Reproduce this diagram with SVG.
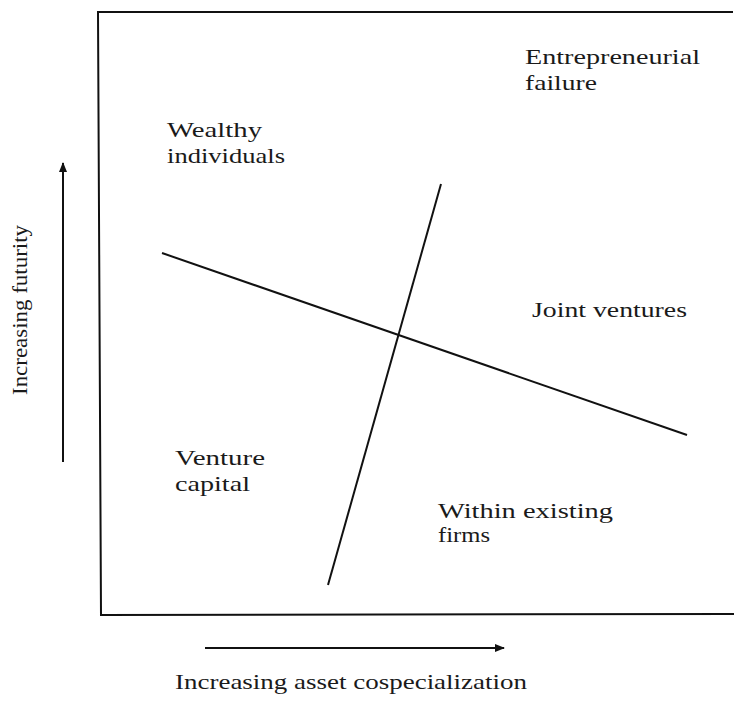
<svg xmlns="http://www.w3.org/2000/svg" width="734" height="713" viewBox="0 0 734 713">
<style>
.t{font-family:"Liberation Serif","DejaVu Serif",serif;font-size:22px;fill:#1a1a1a}
.ln{stroke:#111;stroke-width:2;fill:none}
.ax{stroke:#111;stroke-width:2;fill:none}
</style>
<defs>
<marker id="ah" markerWidth="10" markerHeight="8" refX="9" refY="4" orient="auto" markerUnits="userSpaceOnUse">
<path d="M0,0 L10,4 L0,8 Z" fill="#111"/>
</marker>
</defs>
<rect width="734" height="713" fill="#fff"/>
<g id="frame">
<path class="ln" d="M733,12 L98,12 L101,615 L734,614"/>
</g>
<g id="connectors">
<line class="ln" x1="162" y1="253" x2="687" y2="435"/>
<line class="ln" x1="441" y1="184" x2="328" y2="585"/>
<line class="ax" x1="63" y1="462" x2="63" y2="163" marker-end="url(#ah)"/>
<line class="ax" x1="205" y1="648" x2="504" y2="648" marker-end="url(#ah)"/>
</g>
<g id="entrepreneurial-failure">
<text class="t" x="525" y="64" textLength="175" lengthAdjust="spacingAndGlyphs">Entrepreneurial</text>
<text class="t" x="525" y="90" textLength="72" lengthAdjust="spacingAndGlyphs">failure</text>
</g>
<g id="wealthy-individuals">
<text class="t" x="167" y="137" textLength="95" lengthAdjust="spacingAndGlyphs">Wealthy</text>
<text class="t" x="167" y="163" textLength="118" lengthAdjust="spacingAndGlyphs">individuals</text>
</g>
<g id="joint-ventures">
<text class="t" x="532" y="317" textLength="155" lengthAdjust="spacingAndGlyphs">Joint ventures</text>
</g>
<g id="venture-capital">
<text class="t" x="175" y="465" textLength="90" lengthAdjust="spacingAndGlyphs">Venture</text>
<text class="t" x="175" y="491" textLength="75" lengthAdjust="spacingAndGlyphs">capital</text>
</g>
<g id="within-existing-firms">
<text class="t" x="438" y="518" textLength="175" lengthAdjust="spacingAndGlyphs">Within existing</text>
<text class="t" x="438" y="542" textLength="52" lengthAdjust="spacingAndGlyphs">firms</text>
</g>
<g id="axis-labels">
<text class="t" transform="translate(27,395) rotate(-90)" x="0" y="0" textLength="170" lengthAdjust="spacingAndGlyphs">Increasing futurity</text>
<text class="t" x="175" y="689" textLength="352" lengthAdjust="spacingAndGlyphs">Increasing asset cospecialization</text>
</g>
</svg>
